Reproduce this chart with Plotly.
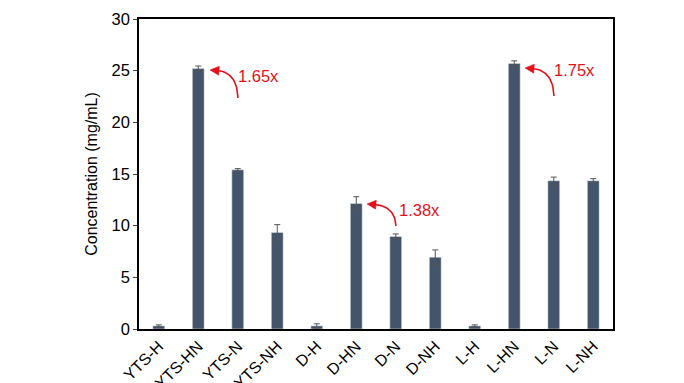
import math
import plotly.graph_objects as go

categories = ["YTS-H", "YTS-HN", "YTS-N", "YTS-NH", "D-H", "D-HN", "D-N", "D-NH",
              "L-H", "L-HN", "L-N", "L-NH"]
values = [0.3, 25.2, 15.4, 9.35, 0.3, 12.15, 8.95, 6.95, 0.3, 25.7, 14.35, 14.35]
errors = [0.1, 0.25, 0.12, 0.75, 0.2, 0.65, 0.25, 0.7, 0.1, 0.25, 0.35, 0.2]
y_ticks = [0, 5, 10, 15, 20, 25, 30]
fold_labels = ["1.65x", "1.38x", "1.75x"]

RED = "#e3101c"
FONT = "Liberation Sans, Arial, sans-serif"

fig = go.Figure()
fig.add_trace(go.Bar(
    x=list(range(len(categories))), y=values,
    width=0.3,
    marker=dict(color="#44546a"),
    error_y=dict(type="data", array=errors, visible=True, color="#555555",
                 thickness=1, width=3),
    hoverinfo="skip",
))

# px -> data helpers for the decorative arrow geometry
L, R, T, B = 131, 605, 11, 321
def dx(px):
    return (px - L) / (R - L) * len(categories) - 0.5
def dy(py):
    return (B - py) / (B - T) * 30

arrows = [
    # (start px, control px, tip px, text center px, label)
    ((230, 90), (229, 64), (202, 62), (250, 68), fold_labels[0]),
    ((388, 218), (387, 198), (359, 196), (411, 202), fold_labels[1]),
    ((546, 88), (545, 62), (517, 60), (566, 62), fold_labels[2]),
]
annotations = []
for (s, c, t, txt, lab) in arrows:
    vx, vy = t[0] - c[0], t[1] - c[1]
    n = math.hypot(vx, vy)
    ux, uy = vx / n, vy / n
    head_len, head_w = 9, 4.5
    bx, by = t[0] - ux * head_len, t[1] - uy * head_len
    ex, ey = bx + ux * 2, by + uy * 2
    cx_, cy_ = [], []
    for k in range(21):
        u = k / 20
        px = (1 - u) ** 2 * s[0] + 2 * (1 - u) * u * c[0] + u ** 2 * ex
        py = (1 - u) ** 2 * s[1] + 2 * (1 - u) * u * c[1] + u ** 2 * ey
        cx_.append(dx(px))
        cy_.append(dy(py))
    fig.add_trace(go.Scatter(x=cx_, y=cy_, mode="lines", line=dict(color=RED, width=1.6),
                             hoverinfo="skip", cliponaxis=False))
    nx_, ny_ = -uy, ux
    hx = [t[0], bx + nx_ * head_w, bx - nx_ * head_w, t[0]]
    hy = [t[1], by + ny_ * head_w, by - ny_ * head_w, t[1]]
    fig.add_trace(go.Scatter(x=[dx(v) for v in hx], y=[dy(v) for v in hy], mode="lines",
                             fill="toself", fillcolor=RED, line=dict(color=RED, width=0.5),
                             hoverinfo="skip", cliponaxis=False))
    annotations.append(dict(x=dx(txt[0]), y=dy(txt[1]), xref="x", yref="y",
                            text=lab, showarrow=False,
                            font=dict(size=16.5, color=RED, family=FONT)))

fig.update_layout(
    width=684, height=383,
    margin=dict(l=131, r=79, t=11, b=62),
    plot_bgcolor="white", paper_bgcolor="white",
    showlegend=False,
    font=dict(family=FONT, size=16, color="black"),
    annotations=annotations,
    xaxis=dict(
        tickmode="array", tickvals=list(range(len(categories))), ticktext=categories,
        tickangle=-45, showline=True, linecolor="black",
        linewidth=1.5, mirror=True, ticks="", showgrid=False, zeroline=False,
        tickfont=dict(size=16, family=FONT),
        range=[-0.5, len(categories) - 0.5], automargin=False,
    ),
    yaxis=dict(
        range=[0, 30], tickvals=y_ticks, showline=True, linecolor="black", linewidth=1.5,
        mirror=True, ticks="outside", ticklen=4, tickwidth=1, showgrid=False, zeroline=False,
        title=dict(text="Concentration (mg/mL)", font=dict(size=16), standoff=10),
        tickfont=dict(size=16.5), automargin=False,
    ),
)

fig.write_html("out.html")
